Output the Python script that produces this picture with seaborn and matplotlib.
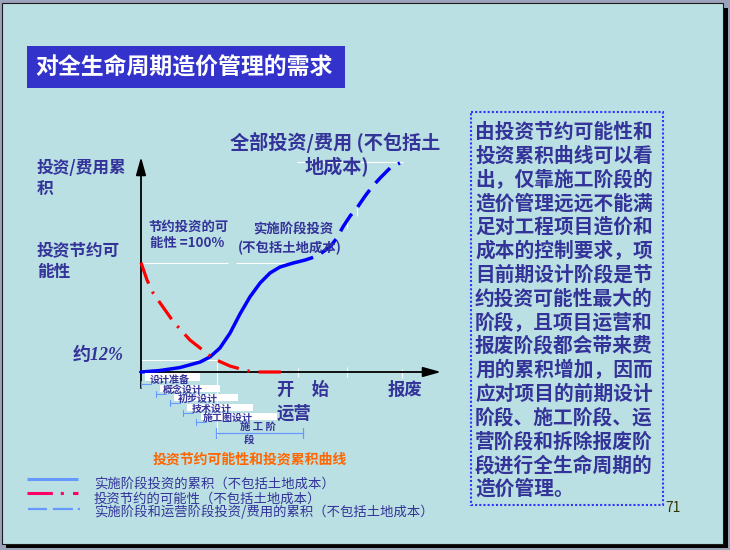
import matplotlib
matplotlib.use("Agg")
import matplotlib.pyplot as plt
import seaborn as sns
import pandas as pd
from matplotlib.patches import Rectangle

# ---------------- data (x: project life, y: % of total investment) ----------------
impl_x = [0, 6.3, 13, 19.7, 23, 26.3, 29.7, 33, 36.3, 39.7, 43, 46.3, 50.7]
impl_y = [0, 0.7, 2.1, 4.7, 7.1, 11.3, 18.4, 27.4, 35.4, 42, 46.7, 49.5, 51.4]
oper_x = [50.7, 54.7, 58.7, 63, 65.3, 67.3, 69.7, 72, 74.7, 77, 79.7, 83, 86.3]
oper_y = [51.4, 52.8, 54.7, 59, 63.2, 68.4, 73.6, 77.4, 83, 87.3, 91.5, 96.2, 98.6]
save_x = [0, 2, 4.1, 10.8, 16.3, 24.4, 29.7, 35.2, 38.7, 49.7]
save_y = [51.6, 43.4, 37.1, 23.7, 15.1, 6.1, 2.8, 0.6, 0, 0]

title = "对全生命周期造价管理的需求"
top_label = ["全部投资/费用 (不包括土", "地成本)"]
left_labels = [["投资/费用累", "积"], ["投资节约可", "能性"]]
pct_label = "约12%"
save_note = ["节约投资的可", "能性 =100%"]
impl_note = ["实施阶段投资", "(不包括土地成本)"]
stage_labels = ["设计准备", "概念设计", "初步设计", "技术设计", "施工图设计"]
build_label = ["施 工 阶", "段"]
oper_label = ["开　始", "运营"]
scrap_label = "报废"
caption = "投资节约可能性和投资累积曲线"
legend_labels = ["实施阶段投资的累积（不包括土地成本）",
                 "投资节约的可能性（不包括土地成本）",
                 "实施阶段和运营阶段投资/费用的累积（不包括土地成本）"]
side_text = ["由投资节约可能性和", "投资累积曲线可以看", "出，仅靠施工阶段的",
             "造价管理远远不能满", "足对工程项目造价和", "成本的控制要求，项",
             "目前期设计阶段是节", "约投资可能性最大的", "阶段，且项目运营和",
             "报废阶段都会带来费", "用的累积增加，因而", "应对项目的前期设计",
             "阶段、施工阶段、运", "营阶段和拆除报废阶", "段进行全生命周期的",
             "造价管理。"]
page_no = "71"

# ---------------- style ----------------
sns.set_theme(style="white")
plt.rcParams["font.family"] = ["Noto Sans CJK SC", "DejaVu Sans"]
NAVY = "#333399"
W, H = 730, 550

fig = plt.figure(figsize=(7.3, 5.5), dpi=100)
fig.patch.set_facecolor("#9CA2BA")

# background layer (pixel coords)
bg = fig.add_axes([0, 0, 1, 1], zorder=0)
bg.set_xlim(0, W); bg.set_ylim(H, 0); bg.axis("off")
bg.add_patch(Rectangle((6, 8), 722, 540, facecolor="black", edgecolor="none"))
bg.add_patch(Rectangle((2, 3), 721, 541, facecolor="#BBE0E3", edgecolor="#1a1a1a", lw=0.8))
bg.add_patch(Rectangle((27, 46), 318, 42, facecolor="#3333CC", edgecolor="none"))

# white guide lines from the slide
for (x0, y0, x1, y1) in [(141, 263, 228, 263), (236, 263, 290, 263),
                         (141, 360, 217, 360), (217, 360, 217, 436),
                         (297, 162, 403, 162), (347, 216, 347, 228),
                         (357, 208, 357, 216), (347, 367, 347, 377),
                         (298, 368, 298, 377), (402, 369, 402, 378)]:
    bg.plot([x0, x1], [y0, y1], color="white", lw=0.8, solid_capstyle="butt")

# axes arrows
bg.annotate("", xy=(141, 157), xytext=(141, 388),
            arrowprops=dict(arrowstyle="-|>,head_length=0.9,head_width=0.25",
                            color="black", lw=1.3, mutation_scale=12, shrinkA=0, shrinkB=0))
bg.annotate("", xy=(441, 372), xytext=(140, 372),
            arrowprops=dict(arrowstyle="-|>,head_length=0.9,head_width=0.25",
                            color="black", lw=1.3, mutation_scale=12, shrinkA=0, shrinkB=0))

# ---------------- chart layer ----------------
ax = fig.add_axes([141 / W, (H - 372) / H, 300 / W, 212 / H], zorder=1)
ax.patch.set_alpha(0)
ax.set_xlim(0, 100); ax.set_ylim(0, 100)
ax.axis("off")

df_impl = pd.DataFrame({"x": impl_x, "y": impl_y})
df_oper = pd.DataFrame({"x": oper_x, "y": oper_y})
df_save = pd.DataFrame({"x": save_x, "y": save_y})

sns.lineplot(data=df_impl, x="x", y="y", ax=ax, color="#0000FF", lw=2.5,
             sort=False, estimator=None, solid_capstyle="round", solid_joinstyle="round")
sns.lineplot(data=df_oper, x="x", y="y", ax=ax, color="#0000FF", lw=2.5,
             sort=False, estimator=None, linestyle=(0, (6, 2.6)))
sns.lineplot(data=df_save, x="x", y="y", ax=ax, color="#FF0000", lw=2.3,
             sort=False, estimator=None, linestyle=(0, (7, 2.8, 0.7, 2.8)))
for l in ax.lines:
    l.set_clip_on(False)

# ---------------- text layer ----------------
ov = fig.add_axes([0, 0, 1, 1], zorder=3)
ov.patch.set_alpha(0)
ov.set_xlim(0, W); ov.set_ylim(H, 0); ov.axis("off")

ov.text(35, 68, title, color="white", fontsize=16.5, fontweight="bold", va="center")

ov.text(230, 142, top_label[0], color=NAVY, fontsize=13.8, fontweight="bold", va="center")
ov.text(305, 167, top_label[1], color=NAVY, fontsize=13.8, fontweight="bold", va="center")

ov.text(37, 168, left_labels[0][0], color=NAVY, fontsize=12, fontweight="bold", va="center")
ov.text(37, 189, left_labels[0][1], color=NAVY, fontsize=12, fontweight="bold", va="center")
ov.text(37, 250, left_labels[1][0], color=NAVY, fontsize=12, fontweight="bold", va="center")
ov.text(37, 272, left_labels[1][1], color=NAVY, fontsize=12, fontweight="bold", va="center")
ov.text(73, 355, pct_label, color=NAVY, fontsize=13, fontweight="bold", style="italic",
        va="center", family=["Liberation Serif", "Noto Sans CJK SC"])

ov.text(148, 227, save_note[0], color=NAVY, fontsize=9.6, fontweight="bold", va="center")
ov.text(150, 243, save_note[1], color=NAVY, fontsize=9.6, fontweight="bold", va="center")
ov.text(253, 230, impl_note[0], color=NAVY, fontsize=9.6, fontweight="bold", va="center")
ov.text(238, 248, impl_note[1], color=NAVY, fontsize=9.6, fontweight="bold", va="center")

# stage labels with white boxes and small brackets
stage_pos = [(150, 380), (163, 390), (178, 399), (192, 409), (203, 418)]
stage_box = [(145, 373, 55, 8), (160, 385, 60, 7), (174, 394, 64, 7),
             (187, 404, 66, 7), (201, 413, 76, 7)]
stage_start = [141, 156, 170, 183, 196]
for lab, (tx, ty), (bx, by, bw, bh), sx in zip(stage_labels, stage_pos, stage_box, stage_start):
    ov.add_patch(Rectangle((bx, by), bw, bh, facecolor="white", edgecolor="none", zorder=1))
    ov.plot([sx, sx + 10], [ty + 4, ty + 4], color="#6699FF", lw=0.8, zorder=2)
    ov.plot([sx, sx], [ty + 1, ty + 7], color="#6699FF", lw=0.8, zorder=2)
    ov.text(tx, ty, lab, color=NAVY, fontsize=7.2, fontweight="bold", va="center", zorder=3)

ov.plot([216, 303], [433, 433], color="#6699FF", lw=0.9)
ov.plot([216, 216], [428, 438], color="#6699FF", lw=0.9)
ov.plot([303, 303], [428, 438], color="#6699FF", lw=0.9)
ov.text(240, 427, build_label[0], color=NAVY, fontsize=7.5, fontweight="bold", va="center")
ov.text(244, 440, build_label[1], color=NAVY, fontsize=7.5, fontweight="bold", va="center")

ov.text(277, 390, oper_label[0], color=NAVY, fontsize=12.5, fontweight="bold", va="center")
ov.text(277, 414, oper_label[1], color=NAVY, fontsize=12.5, fontweight="bold", va="center")
ov.text(388, 390, scrap_label, color=NAVY, fontsize=12.5, fontweight="bold", va="center")

ov.text(153, 460, caption, color="#FF6600", fontsize=10, fontweight="bold", va="center")

# legend keys
ov.plot([27, 78], [479, 479], color="#6699FF", lw=2.2, solid_capstyle="butt")
ov.plot([27, 78], [493, 493], color="#FF0066", lw=2.2, linestyle=(0, (8.3, 2.6, 1.0, 3.0)))
ov.plot([28, 80], [509, 509], color="#6699FF", lw=1.6, linestyle=(0, (8.5, 2.7, 9.0, 2.2, 1.0, 3)))
for i, lab in enumerate(legend_labels):
    ov.text(94, 485 + i * 13.5, lab, color=NAVY, fontsize=9.6, va="center")

# side text box
ov.add_patch(Rectangle((471, 112), 192, 393, fill=False, edgecolor="#3333FF",
                       lw=1.5, linestyle=(0, (1, 1))))
for i, line in enumerate(side_text):
    ov.text(475, 132 + i * 23.8, line, color=NAVY, fontsize=14.2, fontweight="bold", va="center")

ov.text(665, 508, page_no, color="#333300", fontsize=10, va="center")

fig.savefig("out.png", dpi=100, facecolor=fig.get_facecolor())
